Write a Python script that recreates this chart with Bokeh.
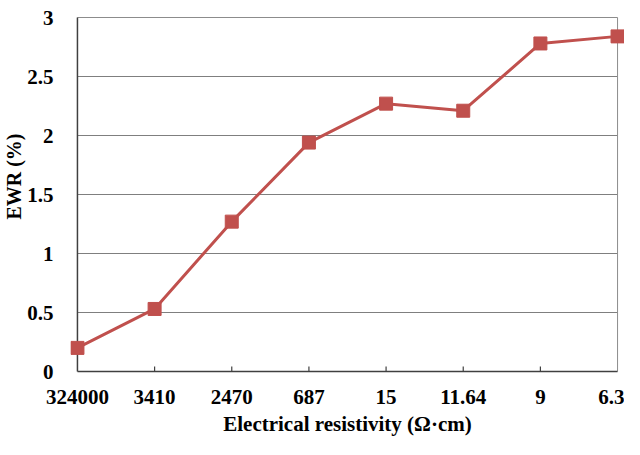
from bokeh.plotting import figure
from bokeh.models import Range1d, FixedTicker, Title
from bokeh.embed import file_html
from bokeh.resources import INLINE

# ---- data ----
categories = ["324000", "3410", "2470", "687", "15", "11.64", "9", "6.3"]
ewr = [0.2, 0.53, 1.27, 1.94, 2.27, 2.21, 2.78, 2.84]
y_ticks = [0, 0.5, 1, 1.5, 2, 2.5, 3]
y_labels = ["0", "0.5", "1", "1.5", "2", "2.5", "3"]

xs = list(range(len(categories)))
n = len(categories) - 1
xu = (617 - 73) / n   # px per category step
yu = 118.0            # px per y unit
padx = 7
pady = 2

p = figure(width=624, height=439, output_backend="svg", toolbar_location=None,
           x_range=Range1d(-padx / xu, n + padx / xu),
           y_range=Range1d(-pady / yu, y_ticks[-1] + pady / yu),
           min_border_left=66, min_border_right=0,
           min_border_top=15, min_border_bottom=66)
p.outline_line_color = None
p.grid.visible = False
p.background_fill_color = "white"
p.border_fill_color = "white"

# gridlines (inner) and box
p.segment(x0=[0] * (len(y_ticks) - 2), x1=[n] * (len(y_ticks) - 2),
          y0=y_ticks[1:-1], y1=y_ticks[1:-1], line_color="#7f7f7f", line_width=1)
p.segment(x0=[0], x1=[n], y0=[y_ticks[-1]], y1=[y_ticks[-1]], line_color="#8c8c8c", line_width=1)
p.segment(x0=[n], x1=[n], y0=[0], y1=[y_ticks[-1]], line_color="#8c8c8c", line_width=1)
p.segment(x0=[0], x1=[0], y0=[0], y1=[y_ticks[-1]], line_color="#404040", line_width=1.5)
p.segment(x0=[0], x1=[n], y0=[0], y1=[0], line_color="#404040", line_width=1.5)
# inward x ticks
p.segment(x0=xs[1:-1], x1=xs[1:-1], y0=[0] * (n - 1), y1=[5 / yu] * (n - 1),
          line_color="#404040", line_width=1.2)

# series
p.line(xs, ewr, line_color="#C0504D", line_width=3)
p.scatter(xs, ewr, marker="square", size=13, fill_color="#C0504D", line_color="#C0504D", line_width=1)

font = "Liberation Serif"
# x axis
p.xaxis.ticker = FixedTicker(ticks=xs)
p.xaxis.major_label_overrides = {i: c for i, c in zip(xs, categories)}
p.xaxis.axis_line_color = None
p.xaxis.major_tick_line_color = None
p.xaxis.minor_tick_line_color = None
p.xaxis.major_label_standoff = 10
p.xaxis.major_label_text_font = font
p.xaxis.major_label_text_font_style = "bold"
p.xaxis.major_label_text_font_size = "21px"
p.xaxis.major_label_text_color = "black"
p.xaxis.axis_label = "Electrical resistivity (Ω·cm)"
p.xaxis.axis_label_text_font = font
p.xaxis.axis_label_text_font_style = "bold"
p.xaxis.axis_label_text_font_size = "21px"
p.xaxis.axis_label_text_color = "black"
p.xaxis.axis_label_standoff = 5

# y axis
p.yaxis.ticker = FixedTicker(ticks=y_ticks)
p.yaxis.major_label_overrides = {(int(t) if t == int(t) else t): l for t, l in zip(y_ticks, y_labels)}
p.yaxis.axis_line_color = None
p.yaxis.major_tick_line_color = None
p.yaxis.minor_tick_line_color = None
p.yaxis.major_label_standoff = 11
p.yaxis.major_label_text_font = font
p.yaxis.major_label_text_font_style = "bold"
p.yaxis.major_label_text_font_size = "21px"
p.yaxis.major_label_text_color = "black"

ytitle = Title(text="EWR (%)", align="right", offset=118, standoff=0,
               text_font=font, text_font_style="bold", text_font_size="20px",
               text_color="black")
p.add_layout(ytitle, "left")

open("out.html", "w").write(file_html(p, INLINE))
